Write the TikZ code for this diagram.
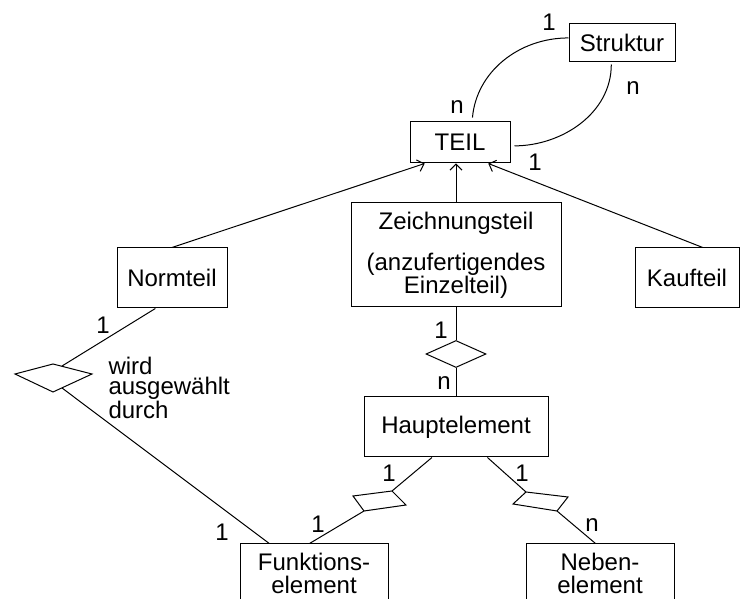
\documentclass[tikz,border=0pt]{standalone}
\usepackage{fontspec}
\setmainfont{Liberation Sans}
\usetikzlibrary{arrows.meta,calc,shapes.geometric}

\begin{document}
\begin{tikzpicture}[x=0.5pt,y=-0.5pt,line width=0.5pt,
  box/.style={draw,inner sep=0pt,align=center,font=\fontsize{12}{11.5}\selectfont},
  card/.style={inner sep=0pt,font=\fontsize{12}{14}\selectfont},
  isa/.style={-{Straight Barb[length=3pt,width=6pt]}}]
\useasboundingbox (0,0) rectangle (741,599);
\clip (0,0) rectangle (741,599);

\node[box,minimum width=53pt,minimum height=19pt] (struktur) at (622,43) {Struktur};
\node[box,minimum width=50pt,minimum height=20.5pt] (teil) at (460,142.5) {TEIL};
\node[box,minimum width=55pt,minimum height=30pt] (normteil) at (172,278) {Normteil};
\node[box,minimum width=105pt,minimum height=52pt] (zeichteil) at (456,255) {Zeichnungsteil\\[9pt](anzufertigendes\\Einzelteil)};
\node[box,minimum width=52pt,minimum height=30pt] (kaufteil) at (687,278) {Kaufteil};
\node[box,minimum width=92pt,minimum height=30pt] (haupt) at (456,427) {Hauptelement};
\node[box,minimum width=74pt,minimum height=29pt] (funktion) at (314,573) {Funktions-\\element};
\node[box,minimum width=74pt,minimum height=29pt] (neben) at (600,573) {Neben-\\element};

% Struktur
\draw[shorten <=2pt] ($(teil.north west)!0.62!(teil.north east)$) to[out=85,in=180] ($(struktur.north west)!0.37!(struktur.south west)$);
\draw[shorten <=1pt,shorten >=2pt] ($(struktur.south west)!0.4!(struktur.south east)$) to[out=-90,in=0] ($(teil.north east)!0.58!(teil.south east)$);
\node[card] (s1) at (549,22) {1};
\node[card] (s2) at (633,88) {n};
\node[card] (s3) at (457,107) {n};
\node[card] (s4) at (535,162) {1};

% Generalisierung
\draw[isa] (normteil.north) -- ($(teil.south west)!0.15!(teil.south east)$);
\draw[isa] (zeichteil.north) -- (zeichteil.north |- teil.south);
\draw[isa] ($(kaufteil.north west)!0.65!(kaufteil.north east)$) -- ($(teil.south west)!0.78!(teil.south east)$);

% wird ausgewaehlt durch
\coordinate (r1w) at (15,374);
\coordinate (r1n) at (53,364);
\coordinate (r1e) at (92,374);
\coordinate (r1s) at (53,392);
\draw (r1w) -- (r1n) -- (r1e) -- (r1s) -- cycle;
\coordinate (r1a) at (62,366);
\coordinate (r1b) at (62,388);
\draw ($(normteil.south west)!0.35!(normteil.south east)$) -- (r1a);
\draw (r1b) -- ($(funktion.north west)!0.2!(funktion.north east)$);
\node[anchor=west,inner sep=0pt,align=left,font=\fontsize{12}{10}\selectfont] (rolle) at (108,388) {wird\\ausgewählt\\durch};
\node[card] (a1) at (103,325) {1};
\node[card] (a2) at (222,532) {1};

% Zeichnungsteil -- Hauptelement
\node[draw,diamond,inner sep=0pt,minimum width=30pt,minimum height=13.5pt] (r2) at (456,354) {};
\draw (zeichteil.south) -- (r2.north);
\draw (r2.south) -- (haupt.north);
\node[card] (b1) at (441,330) {1};
\node[card] (b2) at (444,383) {n};

% Hauptelement -- Funktionselement
\coordinate (r3n) at (392,491);
\coordinate (r3e) at (406,505);
\coordinate (r3s) at (364,511);
\coordinate (r3w) at (353,496);
\draw (r3n) -- (r3e) -- (r3s) -- (r3w) -- cycle;
\draw ($(haupt.south west)!0.37!(haupt.south east)$) -- (r3n);
\draw (r3s) -- ($(funktion.north west)!0.47!(funktion.north east)$);
\node[card] (c1) at (389,473) {1};
\node[card] (c2) at (318,524) {1};

% Hauptelement -- Nebenelement
\coordinate (r4n) at (526,492);
\coordinate (r4e) at (568,497);
\coordinate (r4s) at (557,511);
\coordinate (r4w) at (513,504);
\draw (r4n) -- (r4e) -- (r4s) -- (r4w) -- cycle;
\draw ($(haupt.south west)!0.67!(haupt.south east)$) -- (r4n);
\draw (r4s) -- ($(neben.north west)!0.47!(neben.north east)$);
\node[card] (d1) at (522,473) {1};
\node[card] (d2) at (592,525) {n};
\end{tikzpicture}
\end{document}
